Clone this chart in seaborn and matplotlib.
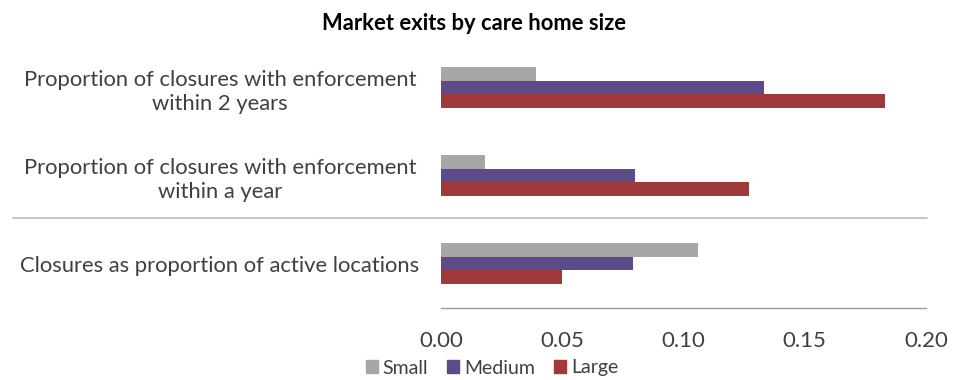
import matplotlib
matplotlib.use("Agg")
import matplotlib.pyplot as plt
from matplotlib.lines import Line2D
import seaborn as sns
import pandas as pd

categories = [
    "Proportion of closures with enforcement\nwithin 2 years",
    "Proportion of closures with enforcement\nwithin a year",
    "Closures as proportion of active locations",
]
sizes = ["Small", "Medium", "Large"]
small = [0.039, 0.018, 0.106]
medium = [0.133, 0.080, 0.079]
large = [0.183, 0.127, 0.050]
xticks = [0.00, 0.05, 0.10, 0.15, 0.20]
title = "Market exits by care home size"

rows = []
for cat, s, m, l in zip(categories, small, medium, large):
    rows.append((cat, "Small", s))
    rows.append((cat, "Medium", m))
    rows.append((cat, "Large", l))
df = pd.DataFrame(rows, columns=["category", "size", "value"])

sns.set_style("white")
plt.rcParams["font.family"] = ["Lato", "DejaVu Sans"]

colors = {"Small": "#A6A6A6", "Medium": "#5D4A8A", "Large": "#A03A3A"}

fig = plt.figure(figsize=(9.61, 3.80), dpi=100)
ax = fig.add_axes([441 / 961, 1 - 307.5 / 380, 485 / 961, 264 / 380])

sns.barplot(data=df, y="category", x="value", hue="size", hue_order=sizes,
            order=categories, palette=colors, orient="h", width=0.47,
            gap=0, saturation=1, linewidth=0, ax=ax, legend=True)

ax.set_xlim(0, 0.2)
ax.set_ylim(2.5, -0.5)
ax.set_xticks(xticks)
ax.set_xticklabels([f"{t:.2f}" for t in xticks], fontsize=16, color="#404040")
ax.set_yticks(range(len(categories)))
ax.set_yticklabels(categories, fontsize=15.8, color="#404040", ha="center",
                   multialignment="center", linespacing=1.3)
for lab in ax.get_yticklabels():
    lab.set_x(-0.4557)
ax.tick_params(axis="y", length=0, pad=0)
ax.tick_params(axis="x", length=6, width=1, color="#999999", direction="out", pad=11)
ax.set_xlabel("")
ax.set_ylabel("")
for side in ["top", "right", "left"]:
    ax.spines[side].set_visible(False)
ax.spines["bottom"].set_color("#999999")
ax.spines["bottom"].set_linewidth(1)

fig.add_artist(Line2D([13 / 961, 927 / 961], [1 - 218 / 380, 1 - 218 / 380],
                      color="#BBBBBB", linewidth=1.2))

fig.text(474 / 961, 1 - 23 / 380, title, ha="center", va="center",
         fontsize=15.8, fontweight="bold", color="#000000")

ax.legend_.remove()
handles = [plt.Rectangle((0, 0), 1, 1, color=colors[s]) for s in sizes]
fig.legend(handles, sizes, loc="center", bbox_to_anchor=(492 / 961, 1 - 368 / 380),
           ncol=3, frameon=False, fontsize=14, handlelength=0.6, handleheight=0.6,
           handletextpad=0.25, columnspacing=1.0, labelcolor="#404040")

fig.savefig("out.png", dpi=100)
